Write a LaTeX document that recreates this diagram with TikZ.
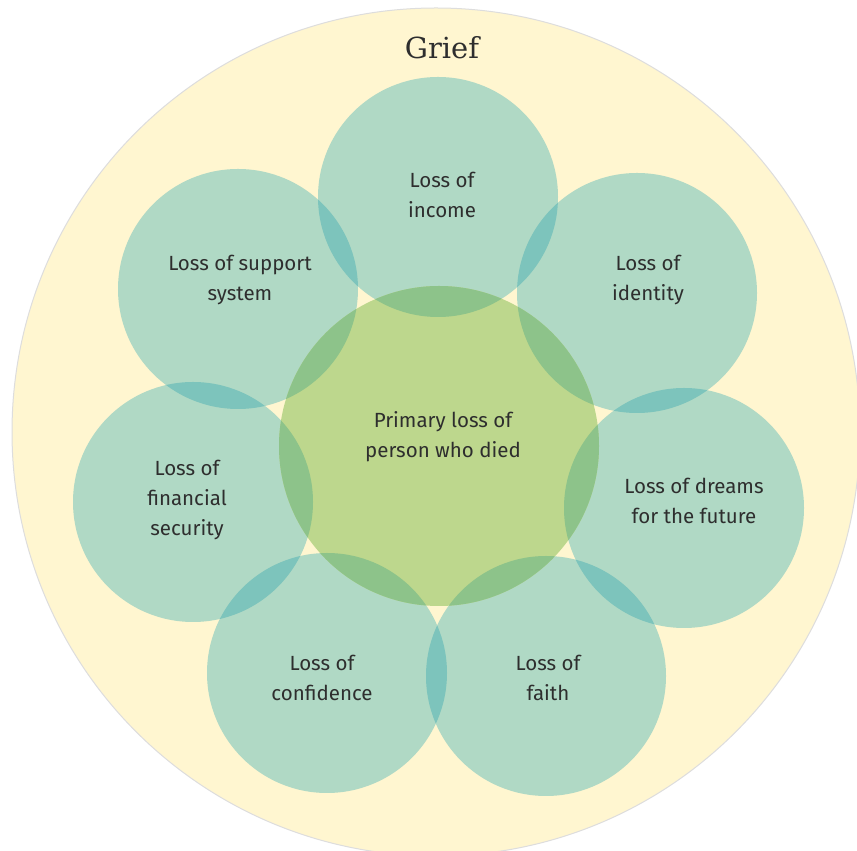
\documentclass[tikz,border=0pt]{standalone}
\usepackage{fontspec}
\setmainfont{Fira Sans}
\newfontfamily\griefFont{DejaVu Serif}
\definecolor{bgyellow}{HTML}{FFF6D0}
\definecolor{teal1}{HTML}{B0D9C5}
\definecolor{teal2}{HTML}{7DC4BC}
\definecolor{green1}{HTML}{BDD78D}
\definecolor{green2}{HTML}{8DC38A}
\definecolor{txt}{HTML}{2E2E2E}
\definecolor{rim}{HTML}{DDDDDD}
\tikzset{
  lbl/.style={align=center, text=txt, font=\fontsize{20.5}{30}\selectfont, inner sep=0pt},
}
\begin{document}
\begin{tikzpicture}[x=1pt,y=1pt]
\useasboundingbox (0,0) rectangle (857,851);
\clip (0,0) rectangle (857,851);
\fill[white] (0,0) rectangle (857,851);
% big circle
\coordinate (G) at (436,419);
\fill[bgyellow, draw=rim, line width=1pt] (G) circle (424);
% centers
\coordinate (C) at (439,405);
\coordinate (c1) at (438,654);
\coordinate (c2) at (637,558);
\coordinate (c3) at (684,343);
\coordinate (c4) at (546,175);
\coordinate (c5) at (327,178);
\coordinate (c6) at (193,349);
\coordinate (c7) at (238,562);
\foreach \c in {c1,c2,c3,c4,c5,c6,c7} \fill[teal1] (\c) circle (120);
% teal overlaps
\foreach \a/\b in {c1/c2,c2/c3,c3/c4,c4/c5,c5/c6,c6/c7,c7/c1} {
  \begin{scope}
    \clip (\a) circle (120);
    \fill[teal2] (\b) circle (120);
  \end{scope}
}
% center
\fill[green1] (C) circle (160);
\foreach \c in {c1,c2,c3,c4,c5,c6,c7} {
  \begin{scope}
    \clip (C) circle (160);
    \fill[green2] (\c) circle (120);
  \end{scope}
}
% labels
\node[text=txt, font=\griefFont\fontsize{29}{34}\selectfont, inner sep=0pt] (grief) at (442,803) {Grief};
\node[lbl] (tC) at (443,414) {Primary loss of\\person who died};
\node[lbl] (t1) at (442,656) {Loss of\\income};
\node[lbl] (t2) at (648,571) {Loss of\\identity};
\node[lbl] (t3) at (694,350) {Loss of dreams\\for the future};
\node[lbl] (t4) at (548,173) {Loss of\\faith};
\node[lbl] (t5) at (322,173) {Loss of\\confidence};
\node[lbl] (t6) at (187,351) {Loss of\\financial\\security};
\node[lbl] (t7) at (240,571) {Loss of support\\system};
\end{tikzpicture}
\end{document}
